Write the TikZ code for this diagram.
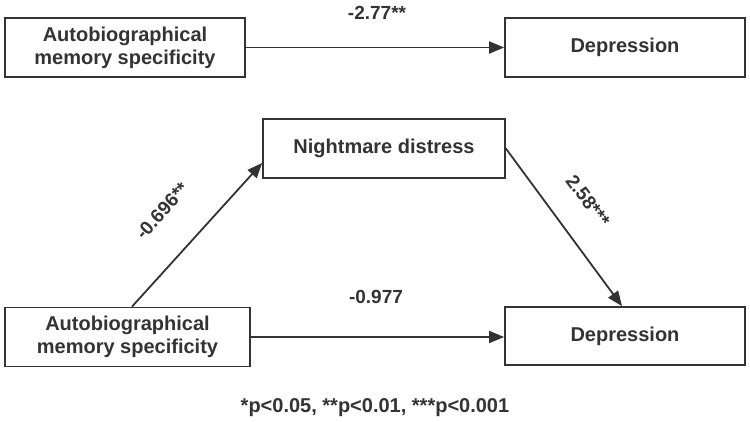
\documentclass[tikz,border=0pt]{standalone}
\usepackage{fontspec}
\setmainfont{Liberation Sans}
\usetikzlibrary{arrows.meta,calc}
\definecolor{ink}{HTML}{333333}
\begin{document}
\begin{tikzpicture}[x=1pt,y=1pt,
  box/.style={draw=ink,line width=1.7pt,fill=white,minimum height=59pt,align=center,
    font=\fontsize{20}{23}\selectfont\bfseries,text=ink,inner sep=0pt},
  conn/.style={draw=ink,line width=1.8pt,-{Triangle[length=15pt,width=12pt]}},
  lbl/.style={font=\fontsize{19}{22}\selectfont\bfseries,text=ink,inner sep=0pt}]
\useasboundingbox (0,0) rectangle (750,421);
\node[box,minimum width=240pt] (a1) at (125,373.5) {Autobiographical\\memory specificity};
\node[box,minimum width=240pt] (d1) at (625,373.5) {Depression};
\node[box,minimum width=242pt] (nd) at (384,272.5) {Nightmare distress};
\node[box,minimum width=245pt] (a2) at (127.5,84) {Autobiographical\\memory specificity};
\node[box,minimum width=240pt,minimum height=58pt] (d2) at (625,85) {Depression};
\draw[conn] (a1.east) -- (d1.west);
\draw[conn] (a2.east) -- (a2.east -| d2.west);
\draw[conn] ([xshift=4.5pt]a2.north) -- ([yshift=-14.5pt]nd.west);
\draw[conn] (nd.east) -- ([xshift=-3pt]d2.north);
\node[lbl] (l1) at (377,408) {-2.77**};
\node[lbl] (l2) at (376,124) {-0.977};
\node[lbl,rotate=48] (l3) at (162,210) {-0.696**};
\node[lbl,rotate=-53] (l4) at (588,220) {2.58***};
\node[lbl,font=\fontsize{20}{23}\selectfont\bfseries] (fn) at (375,13) {*p<0.05, **p<0.01, ***p<0.001};
\end{tikzpicture}
\end{document}
